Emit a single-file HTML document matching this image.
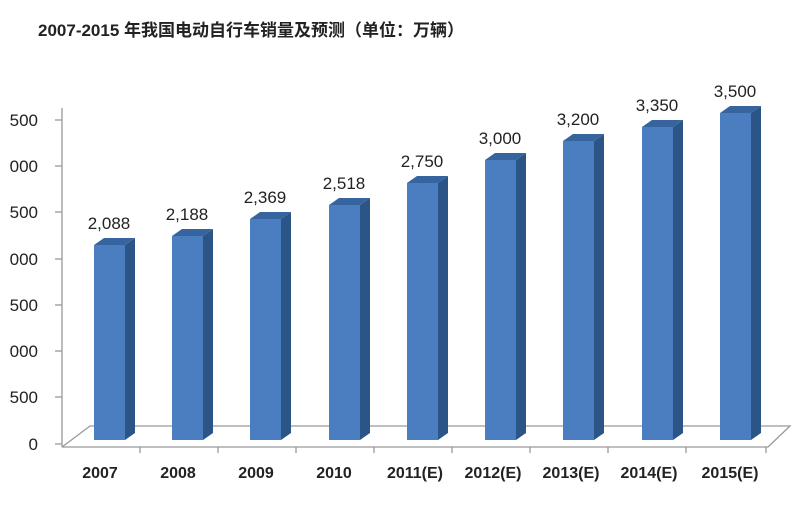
<!DOCTYPE html>
<html><head><meta charset="utf-8"><style>
body{margin:0;background:#fff;}
svg text{font-family:"Liberation Sans","Noto Sans CJK SC",sans-serif;}
</style></head><body>
<svg width="800" height="500" xmlns="http://www.w3.org/2000/svg">
<text x="38" y="36" font-size="17" font-weight="bold" fill="#222">2007-2015 年我国电动自行车销量及预测（单位：万辆）</text>
<g stroke="#999" stroke-width="1.3" fill="none">
<line x1="62" y1="108" x2="62" y2="447"/>
<polyline points="62,447 768,447 790,426 90,426 62,447"/>
<line x1="55" y1="120" x2="62" y2="120"/><line x1="55" y1="166" x2="62" y2="166"/><line x1="55" y1="212" x2="62" y2="212"/><line x1="55" y1="259" x2="62" y2="259"/><line x1="55" y1="305" x2="62" y2="305"/><line x1="55" y1="351" x2="62" y2="351"/><line x1="55" y1="397" x2="62" y2="397"/><line x1="55" y1="444" x2="62" y2="444"/>
<line x1="140" y1="447" x2="140" y2="453"/><line x1="218" y1="447" x2="218" y2="453"/><line x1="296" y1="447" x2="296" y2="453"/><line x1="374" y1="447" x2="374" y2="453"/><line x1="452" y1="447" x2="452" y2="453"/><line x1="530" y1="447" x2="530" y2="453"/><line x1="608" y1="447" x2="608" y2="453"/><line x1="686" y1="447" x2="686" y2="453"/><line x1="766" y1="447" x2="766" y2="453"/>
</g>
<g font-size="17" fill="#222" text-anchor="end">
<text x="38" y="126">500</text><text x="38" y="172">000</text><text x="38" y="218">500</text><text x="38" y="265">000</text><text x="38" y="311">500</text><text x="38" y="357">000</text><text x="38" y="403">500</text><text x="38" y="450">0</text>
</g>
<g>
<polygon points="125,245 135,238 135,433 125,440" fill="#2c5587"/><polygon points="94,245 104,238 135,238 125,245" fill="#35649e"/><rect x="94" y="245" width="31" height="195" fill="#4a7ec0"/>
<polygon points="203,236 213,229 213,433 203,440" fill="#2c5587"/><polygon points="172,236 182,229 213,229 203,236" fill="#35649e"/><rect x="172" y="236" width="31" height="204" fill="#4a7ec0"/>
<polygon points="281,219 291,212 291,433 281,440" fill="#2c5587"/><polygon points="250,219 260,212 291,212 281,219" fill="#35649e"/><rect x="250" y="219" width="31" height="221" fill="#4a7ec0"/>
<polygon points="360,205 370,198 370,433 360,440" fill="#2c5587"/><polygon points="329,205 339,198 370,198 360,205" fill="#35649e"/><rect x="329" y="205" width="31" height="235" fill="#4a7ec0"/>
<polygon points="438,183 448,176 448,433 438,440" fill="#2c5587"/><polygon points="407,183 417,176 448,176 438,183" fill="#35649e"/><rect x="407" y="183" width="31" height="257" fill="#4a7ec0"/>
<polygon points="516,160 526,153 526,433 516,440" fill="#2c5587"/><polygon points="485,160 495,153 526,153 516,160" fill="#35649e"/><rect x="485" y="160" width="31" height="280" fill="#4a7ec0"/>
<polygon points="594,141 604,134 604,433 594,440" fill="#2c5587"/><polygon points="563,141 573,134 604,134 594,141" fill="#35649e"/><rect x="563" y="141" width="31" height="299" fill="#4a7ec0"/>
<polygon points="673,127 683,120 683,433 673,440" fill="#2c5587"/><polygon points="642,127 652,120 683,120 673,127" fill="#35649e"/><rect x="642" y="127" width="31" height="313" fill="#4a7ec0"/>
<polygon points="751,113 761,106 761,433 751,440" fill="#2c5587"/><polygon points="720,113 730,106 761,106 751,113" fill="#35649e"/><rect x="720" y="113" width="31" height="327" fill="#4a7ec0"/>
</g>
<g font-size="17" fill="#222" text-anchor="middle">
<text x="109" y="229">2,088</text><text x="187" y="220">2,188</text><text x="265" y="203">2,369</text><text x="344" y="189">2,518</text><text x="422" y="167">2,750</text><text x="500" y="144">3,000</text><text x="578" y="125">3,200</text><text x="657" y="111">3,350</text><text x="735" y="97">3,500</text>
</g>
<g font-size="16" font-weight="bold" fill="#222" text-anchor="middle" style="font-family:'Liberation Serif',serif">
<text x="100" y="478">2007</text><text x="178" y="478">2008</text><text x="256" y="478">2009</text><text x="334" y="478">2010</text><text x="415" y="478">2011(E)</text><text x="493" y="478">2012(E)</text><text x="571" y="478">2013(E)</text><text x="649" y="478">2014(E)</text><text x="730" y="478">2015(E)</text>
</g>
</svg>
</body></html>
